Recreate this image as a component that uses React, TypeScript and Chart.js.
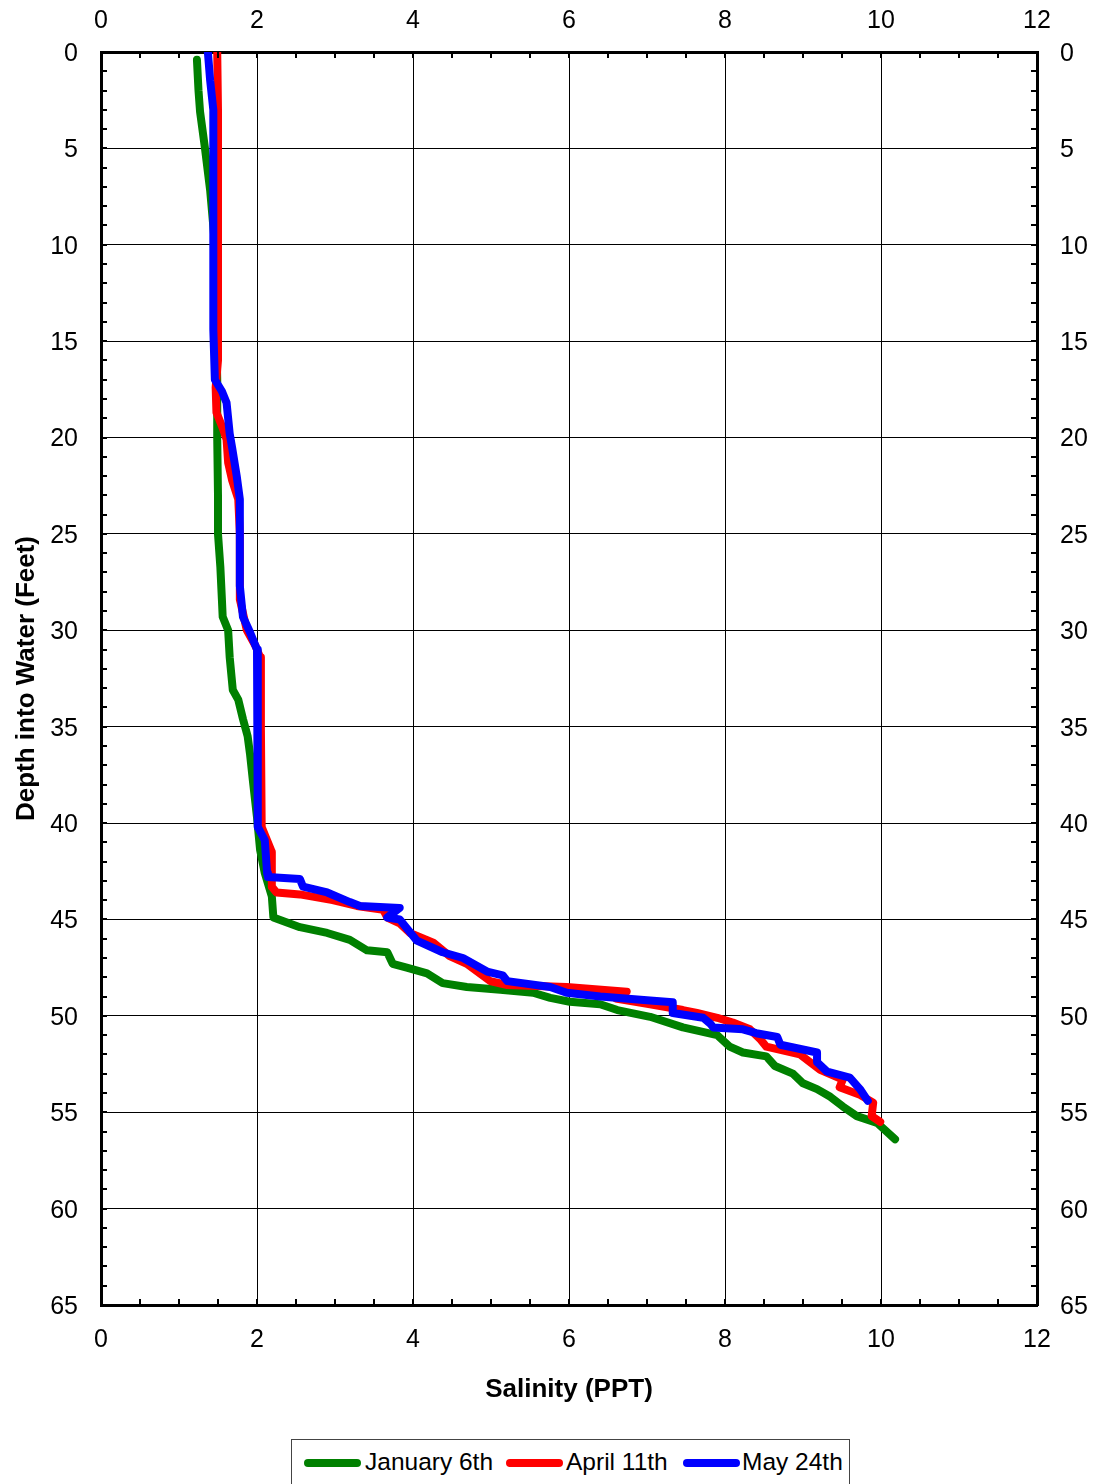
import React, { useEffect, useRef } from "react";
import { Chart, registerables } from "chart.js";

Chart.register(...registerables);

const seriesNames = ["January 6th", "April 11th", "May 24th"];
const seriesColors = ["#008000", "#ff0000", "#0000ff"];

const janSalinity = [1.23, 1.25, 1.27, 1.33, 1.40, 1.45, 1.47, 1.48, 1.49, 1.49, 1.5, 1.5, 1.53, 1.55, 1.56, 1.63, 1.65, 1.69, 1.76, 1.82, 1.88, 1.91, 1.95, 2.0, 2.04, 2.1, 2.19, 2.21, 2.55, 2.9, 3.19, 3.41, 3.67, 3.74, 3.92, 4.18, 4.38, 4.69, 5.12, 5.54, 5.76, 6.01, 6.4, 6.62, 7.04, 7.46, 7.9, 8.06, 8.23, 8.53, 8.64, 8.87, 9.0, 9.18, 9.35, 9.51, 9.69, 9.95, 10.18];
const janDepth = [0.4, 2.0, 3.1, 4.9, 7.2, 9.5, 12, 15, 17, 20, 23, 25, 26.7, 28.4, 29.3, 30, 31.4, 33.1, 33.6, 34.6, 35.5, 36.4, 37.9, 39.7, 41.4, 42.6, 43.8, 44.9, 45.4, 45.7, 46.06, 46.6, 46.7, 47.3, 47.5, 47.8, 48.3, 48.5, 48.65, 48.8, 49.07, 49.27, 49.4, 49.7, 50.05, 50.6, 51.0, 51.6, 51.9, 52.1, 52.6, 53.0, 53.5, 53.8, 54.2, 54.7, 55.2, 55.55, 56.4];

const aprSalinity = [1.49, 1.5, 1.5, 1.5, 1.5, 1.47, 1.48, 1.56, 1.61, 1.63, 1.68, 1.76, 1.78, 1.78, 1.87, 1.98, 2.04, 2.05, 2.06, 2.13, 2.19, 2.19, 2.25, 2.55, 2.97, 3.28, 3.62, 3.67, 3.83, 3.96, 4.26, 4.47, 4.69, 4.99, 5.21, 5.97, 6.74, 6.6, 7.04, 7.46, 7.64, 7.9, 8.1, 8.32, 8.45, 8.53, 8.96, 9.09, 9.22, 9.51, 9.47, 9.73, 9.9, 9.88, 9.99];
const aprDepth = [0, 3, 8, 12, 16, 17.4, 18.7, 19.5, 20.1, 21.3, 22.2, 23.2, 25, 28.4, 30, 30.8, 31.4, 35, 40.2, 40.9, 41.5, 43.3, 43.6, 43.7, 44.0, 44.3, 44.5, 44.9, 45.2, 45.7, 46.2, 46.9, 47.3, 48.2, 48.4, 48.5, 48.75, 49.1, 49.4, 49.7, 49.85, 50.1, 50.35, 50.7, 51.2, 51.6, 52.0, 52.4, 52.8, 53.3, 53.7, 54.1, 54.5, 55.2, 55.5];

const maySalinity = [1.37, 1.40, 1.44, 1.44, 1.44, 1.46, 1.55, 1.61, 1.65, 1.68, 1.74, 1.78, 1.78, 1.82, 1.91, 2.0, 2.01, 2.01, 2.1, 2.13, 2.14, 2.55, 2.59, 2.9, 3.19, 3.32, 3.83, 3.67, 3.83, 4.05, 4.38, 4.64, 4.95, 5.15, 5.21, 5.76, 5.97, 6.4, 7.04, 7.33, 7.33, 7.72, 7.81, 7.85, 8.23, 8.4, 8.67, 8.71, 9.18, 9.18, 9.31, 9.6, 9.73, 9.83];
const mayDepth = [0, 1.5, 3, 7.7, 14.4, 17.0, 17.6, 18.2, 19.8, 20.5, 22, 23.2, 27.7, 29.3, 30.1, 31.0, 35.3, 40.2, 40.9, 42.6, 42.8, 42.9, 43.3, 43.6, 44.1, 44.3, 44.4, 44.9, 45.0, 46.1, 46.7, 47.0, 47.7, 47.9, 48.2, 48.5, 48.8, 49.0, 49.2, 49.3, 49.85, 50.1, 50.4, 50.6, 50.7, 50.9, 51.1, 51.5, 51.9, 52.4, 52.9, 53.2, 53.8, 54.4];

const xTickValues = [0, 2, 4, 6, 8, 10, 12];
const yTickValues = [0, 5, 10, 15, 20, 25, 30, 35, 40, 45, 50, 55, 60, 65];

const FONT = "'Liberation Sans', Arial, Helvetica, sans-serif";
const W = 1098;
const H = 1430;

const toPoints = (xs: number[], ys: number[]) => xs.map((x, i) => ({ x, y: ys[i] }));

const minorTicks = {
  id: "minorTicks",
  afterDraw(chart: any) {
    const { ctx, chartArea } = chart;
    const xs = chart.scales.x;
    const ys = chart.scales.y;
    ctx.save();
    ctx.strokeStyle = "#000";
    ctx.lineWidth = 2;
    ctx.beginPath();
    for (let v = 0.5; v < 12; v += 0.5) {
      const px = Math.round(xs.getPixelForValue(v));
      ctx.moveTo(px, chartArea.top);
      ctx.lineTo(px, chartArea.top + 6);
      ctx.moveTo(px, chartArea.bottom);
      ctx.lineTo(px, chartArea.bottom - 6);
    }
    for (let v = 1; v < 65; v += 1) {
      const py = Math.round(ys.getPixelForValue(v));
      ctx.moveTo(chartArea.left, py);
      ctx.lineTo(chartArea.left + 6, py);
      ctx.moveTo(chartArea.right, py);
      ctx.lineTo(chartArea.right - 6, py);
    }
    ctx.stroke();
    ctx.restore();
  },
};

export default function App() {
  const ref = useRef<HTMLCanvasElement | null>(null);

  useEffect(() => {
    if (!ref.current) return;
    const tickFont = { family: FONT, size: 25 };
    const titleFont = { family: FONT, size: 26, weight: "bold" as const };
    const xTicksCb = (v: any) => (xTickValues.includes(Number(v)) ? String(v) : "");
    const yTicksCb = (v: any) => (yTickValues.includes(Number(v)) ? String(v) : "");
    const series = [
      toPoints(janSalinity, janDepth),
      toPoints(aprSalinity, aprDepth),
      toPoints(maySalinity, mayDepth),
    ];
    const chart = new Chart(ref.current, {
      type: "scatter",
      data: {
        datasets: series.map((data, i) => ({
          label: seriesNames[i],
          data,
          showLine: true,
          borderColor: seriesColors[i],
          backgroundColor: seriesColors[i],
          borderWidth: 8,
          borderCapStyle: "round",
          borderJoinStyle: "round",
          pointRadius: 0,
          pointHoverRadius: 0,
          tension: 0,
          order: 3 - i,
        })),
      },
      options: {
        responsive: false,
        animation: false,
        devicePixelRatio: 1,
        layout: { padding: 0 },
        plugins: { legend: { display: false }, tooltip: { enabled: false } },
        scales: {
          x: {
            type: "linear",
            position: "bottom",
            min: 0,
            max: 12,
            ticks: { stepSize: 2, font: tickFont, color: "#000", padding: 20, callback: xTicksCb, maxRotation: 0 },
            grid: { color: "#000", lineWidth: 1, drawTicks: false },
            border: { display: true, color: "#000", width: 3 },
            title: { display: true, text: "Salinity (PPT)", font: titleFont, color: "#000", padding: { top: 0, bottom: 25 } },
            afterFit: (s: any) => { s.height = H - 1305; },
          },
          x2: {
            type: "linear",
            position: "top",
            min: 0,
            max: 12,
            ticks: { stepSize: 2, font: tickFont, color: "#000", padding: 16, callback: xTicksCb, maxRotation: 0 },
            grid: { drawOnChartArea: false, drawTicks: false },
            border: { display: true, color: "#000", width: 3 },
            afterFit: (s: any) => { s.height = 52; },
          },
          y: {
            type: "linear",
            position: "left",
            reverse: true,
            min: 0,
            max: 65,
            ticks: { stepSize: 5, font: tickFont, color: "#000", padding: 23, labelOffset: 2, callback: yTicksCb },
            grid: { color: "#000", lineWidth: 1, drawTicks: false },
            border: { display: true, color: "#000", width: 3 },
            title: { display: true, text: "Depth into Water (Feet)", font: titleFont, color: "#000", padding: { top: 11, bottom: 0 } },
            afterFit: (s: any) => { s.width = 101; },
          },
          y2: {
            type: "linear",
            position: "right",
            reverse: true,
            min: 0,
            max: 65,
            ticks: { stepSize: 5, font: tickFont, color: "#000", padding: 23, labelOffset: 2, callback: yTicksCb },
            grid: { drawOnChartArea: false, drawTicks: false },
            border: { display: true, color: "#000", width: 3 },
            afterFit: (s: any) => { s.width = W - 1037; },
          },
        },
      },
      plugins: [minorTicks],
    } as any);
    return () => chart.destroy();
  }, []);

  const legendItems = [
    { lineLeft: 304, textLeft: 365 },
    { lineLeft: 506, textLeft: 566 },
    { lineLeft: 683, textLeft: 742 },
  ];

  return (
    <div style={{ position: "absolute", left: 0, top: 0, width: W, height: 1484, background: "#fff" }}>
      <canvas ref={ref} width={W} height={H} style={{ position: "absolute", left: 0, top: 0, width: W, height: H }} />
      <div
        style={{
          position: "absolute",
          left: 291,
          top: 1439,
          width: 559,
          height: 60,
          border: "1px solid #444",
          boxSizing: "border-box",
          background: "#fff",
        }}
      />
      {legendItems.map((it, i) => (
        <React.Fragment key={seriesNames[i]}>
          <div
            style={{
              position: "absolute",
              left: it.lineLeft,
              top: 1459,
              width: 57,
              height: 8,
              borderRadius: 4,
              background: seriesColors[i],
            }}
          />
          <div
            style={{
              position: "absolute",
              left: it.textLeft,
              top: 1447,
              height: 30,
              lineHeight: "30px",
              fontFamily: FONT,
              fontSize: 24.5,
              color: "#000",
              whiteSpace: "nowrap",
            }}
          >
            {seriesNames[i]}
          </div>
        </React.Fragment>
      ))}
    </div>
  );
}
